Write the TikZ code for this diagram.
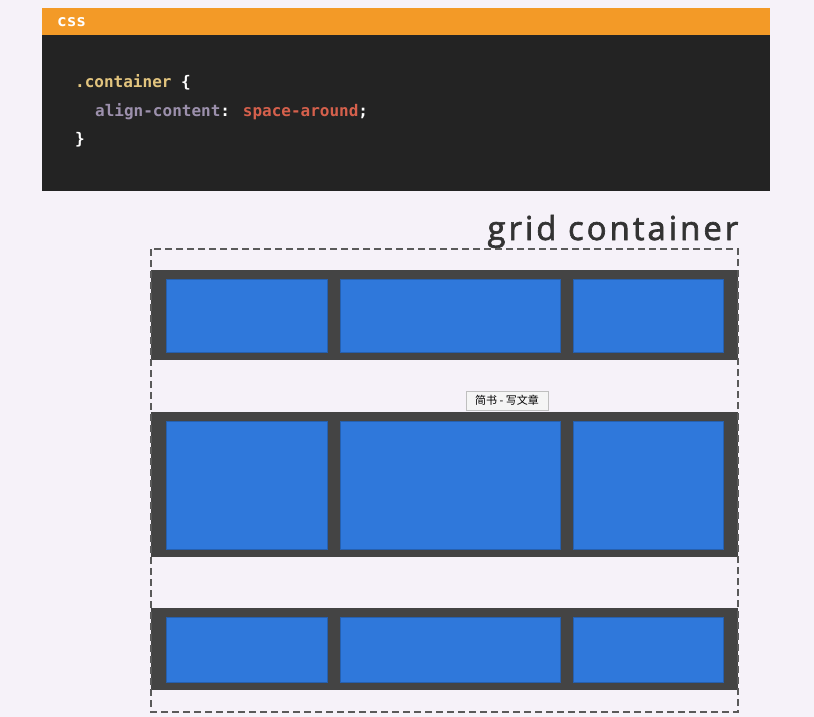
\documentclass[tikz,border=0pt]{standalone}
\usepackage{fontspec}
\setmainfont{Open Sans}
\newfontfamily\codefont{DejaVu Sans Mono}
\newfontfamily\titlefont[LetterSpace=9,FakeBold=2]{Open Sans}
\newfontfamily\cjk{Noto Sans CJK SC}
\definecolor{bg}{HTML}{F6F2F9}
\definecolor{hdr}{HTML}{F39A27}
\definecolor{codebg}{HTML}{232323}
\definecolor{sel}{HTML}{E2C47E}
\definecolor{prop}{HTML}{9C90AC}
\definecolor{val}{HTML}{D5604C}
\definecolor{band}{HTML}{444444}
\definecolor{cell}{HTML}{2F78DB}
\definecolor{borderc}{HTML}{5A5A5A}
\tikzset{
  bandbox/.style={fill=band,draw=none},
  cellbox/.style={fill=cell,draw=cell!80!black,line width=0.5pt},
  code/.style={anchor=base west,inner sep=0pt,font=\codefont\bfseries\fontsize{16}{18}\selectfont},
}
\begin{document}
\begin{tikzpicture}[x=1pt,y=-1pt]
\useasboundingbox (0,0) rectangle (814,717);
\fill[bg] (0,0) rectangle (814,717);
% code block
\fill[hdr] (42,8) rectangle (770,35);
\fill[codebg] (42,35) rectangle (770,191);
\node[anchor=base west,inner sep=0pt,text=white,font=\codefont\bfseries\fontsize{16}{18}\selectfont] (hdrtxt) at (57,27) {css};
\node[code] (l1) at (75,88) {\textcolor{sel}{.container} \textcolor{white}{\{}};
\node[code] (l2) at (95,116) {\textcolor{prop}{align-content}\textcolor{white}{:} \textcolor{val}{space-around}\textcolor{white}{;}};
\node[code,text=white] (l3) at (75,144) {\}};
% title
\node[anchor=base east,inner sep=0pt,text=black!80,font=\titlefont\fontsize{33}{36}\selectfont] (title) at (738.5,240) {grid container};
% rows
\foreach \t/\b/\ct/\cb/\n in {270/360/279/352/1,412/557/421/549/2,608/690/617/682/3}{
  \path[bandbox] (151,\t) rectangle (738,\b);
  \path[cellbox] (166,\ct) rectangle (327,\cb);
  \path[cellbox] (340,\ct) rectangle (560,\cb);
  \path[cellbox] (573,\ct) rectangle (723,\cb);
}
% container border
\draw[borderc,line width=1.6pt,dash pattern=on 7pt off 4pt] (151,249) rectangle (738,712);
% tooltip
\node[draw=black!25,fill=white!96!black,inner sep=2pt,minimum width=82pt,minimum height=19pt,font=\cjk\fontsize{11}{13}\selectfont,text=black] (tip) at (507,400.5) {简书 - 写文章};
\end{tikzpicture}
\end{document}
